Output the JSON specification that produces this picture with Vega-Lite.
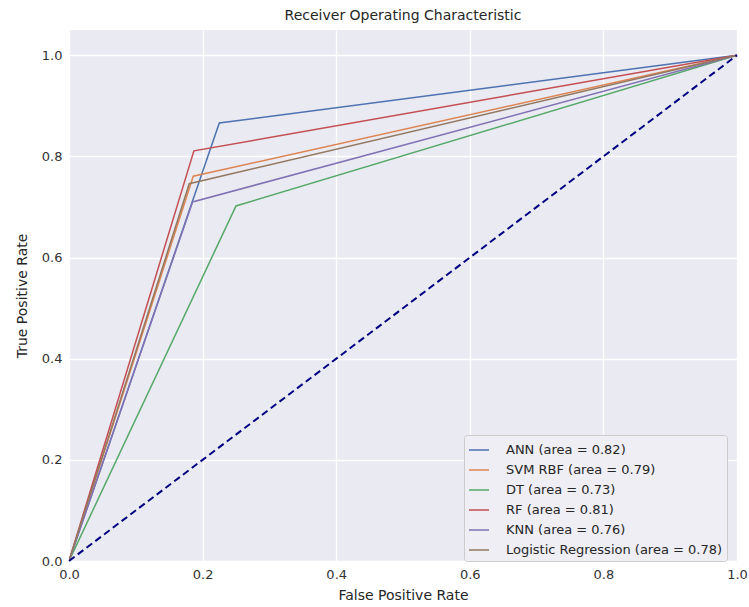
{
  "$schema": "https://vega.github.io/schema/vega-lite/v6.json",
  "width": 668,
  "height": 531,
  "autosize": {"type": "none"},
  "padding": {"left": 69, "top": 30, "right": 12, "bottom": 46},
  "background": "white",
  "title": {"text": "Receiver Operating Characteristic", "font": "DejaVu Sans", "fontSize": 14, "fontWeight": "normal", "color": "#262626", "offset": 7},
  "config": {
    "view": {"fill": "#EAEAF2", "stroke": null},
    "font": "DejaVu Sans",
    "axis": {
      "domain": false, "ticks": false, "grid": true, "gridColor": "white", "gridWidth": 1.3,
      "labelFont": "DejaVu Sans", "labelFontSize": 13, "labelColor": "#333333", "labelFlush": false,
      "titleFont": "DejaVu Sans", "titleFontSize": 14, "titleFontWeight": "normal", "titleColor": "#262626",
      "labelPadding": 7
    }
  },
  "datasets": {
    "roc": [
      {"model": "ANN (area = 0.82)", "ord": 0, "fpr": 0.0, "tpr": 0.0},
      {"model": "ANN (area = 0.82)", "ord": 1, "fpr": 0.225, "tpr": 0.866},
      {"model": "ANN (area = 0.82)", "ord": 2, "fpr": 1.0, "tpr": 1.0},
      {"model": "SVM RBF (area = 0.79)", "ord": 0, "fpr": 0.0, "tpr": 0.0},
      {"model": "SVM RBF (area = 0.79)", "ord": 1, "fpr": 0.186, "tpr": 0.761},
      {"model": "SVM RBF (area = 0.79)", "ord": 2, "fpr": 1.0, "tpr": 1.0},
      {"model": "DT (area = 0.73)", "ord": 0, "fpr": 0.0, "tpr": 0.0},
      {"model": "DT (area = 0.73)", "ord": 1, "fpr": 0.25, "tpr": 0.702},
      {"model": "DT (area = 0.73)", "ord": 2, "fpr": 1.0, "tpr": 1.0},
      {"model": "RF (area = 0.81)", "ord": 0, "fpr": 0.0, "tpr": 0.0},
      {"model": "RF (area = 0.81)", "ord": 1, "fpr": 0.187, "tpr": 0.811},
      {"model": "RF (area = 0.81)", "ord": 2, "fpr": 1.0, "tpr": 1.0},
      {"model": "KNN (area = 0.76)", "ord": 0, "fpr": 0.0, "tpr": 0.0},
      {"model": "KNN (area = 0.76)", "ord": 1, "fpr": 0.185, "tpr": 0.71},
      {"model": "KNN (area = 0.76)", "ord": 2, "fpr": 1.0, "tpr": 1.0},
      {"model": "Logistic Regression (area = 0.78)", "ord": 0, "fpr": 0.0, "tpr": 0.0},
      {"model": "Logistic Regression (area = 0.78)", "ord": 1, "fpr": 0.18, "tpr": 0.746},
      {"model": "Logistic Regression (area = 0.78)", "ord": 2, "fpr": 1.0, "tpr": 1.0}
    ],
    "diag": [
      {"fpr": 0.0, "tpr": 0.0},
      {"fpr": 1.0, "tpr": 1.0}
    ]
  },
  "layer": [
    {
      "data": {"name": "roc"},
      "mark": {"type": "line", "strokeWidth": 1.5, "clip": true},
      "encoding": {
        "x": {"field": "fpr", "type": "quantitative", "scale": {"domain": [0, 1], "nice": false, "zero": false},
              "axis": {"title": "False Positive Rate", "values": [0, 0.2, 0.4, 0.6, 0.8, 1.0], "format": ".1f", "titlePadding": 7}},
        "y": {"field": "tpr", "type": "quantitative", "scale": {"domain": [0, 1.05], "nice": false, "zero": false},
              "axis": {"title": "True Positive Rate", "values": [0, 0.2, 0.4, 0.6, 0.8, 1.0], "format": ".1f", "titlePadding": 12}},
        "order": {"field": "ord", "type": "quantitative"},
        "stroke": {
          "field": "model", "type": "nominal",
          "scale": {
            "domain": ["ANN (area = 0.82)", "SVM RBF (area = 0.79)", "DT (area = 0.73)", "RF (area = 0.81)", "KNN (area = 0.76)", "Logistic Regression (area = 0.78)"],
            "range": ["#4C72B0", "#DD8452", "#55A868", "#C44E52", "#8172B3", "#937860"]
          },
          "legend": {
            "title": null, "orient": "none", "legendX": 395, "legendY": 405,
            "symbolType": "stroke", "symbolSize": 400, "symbolStrokeWidth": 1.5,
            "labelFont": "DejaVu Sans", "labelFontSize": 13, "labelColor": "#262626", "labelLimit": 400,
            "rowPadding": 2, "padding": 4, "fillColor": "#EEEEF4", "strokeColor": "#CCCCCC",
            "cornerRadius": 3, "labelOffset": 16
          }
        }
      }
    },
    {
      "data": {"name": "diag"},
      "mark": {"type": "line", "stroke": "#000080", "strokeWidth": 2, "strokeDash": [7, 4]},
      "encoding": {
        "x": {"field": "fpr", "type": "quantitative"},
        "y": {"field": "tpr", "type": "quantitative"}
      }
    }
  ]
}
